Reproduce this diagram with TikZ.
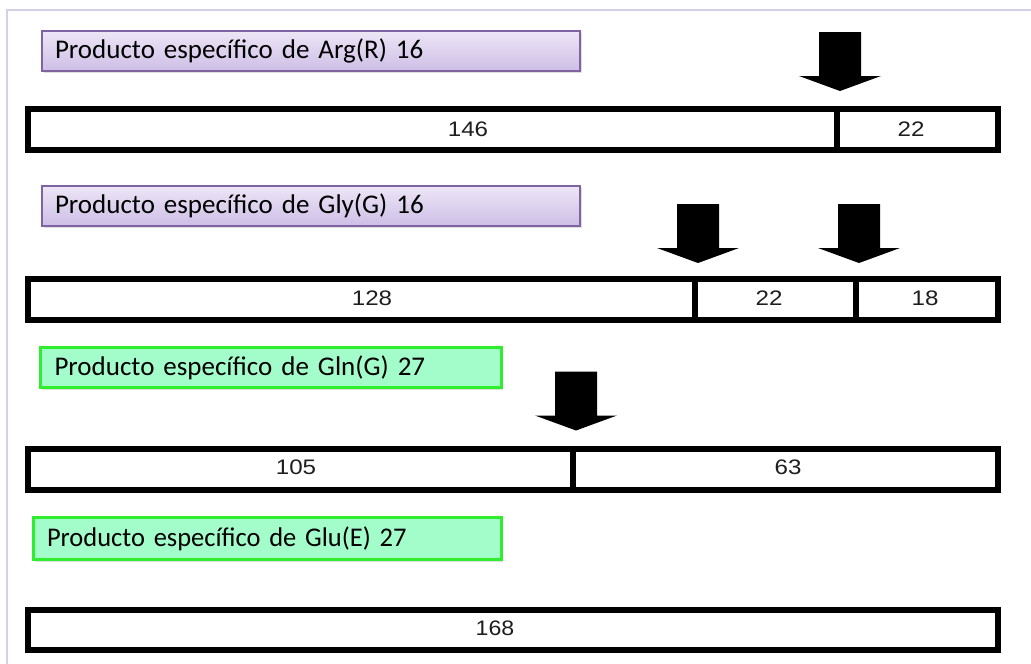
\documentclass[tikz,border=0pt]{standalone}
\usepackage{fontspec}
\usepackage{graphicx}
\setmainfont{Carlito}
\newfontfamily\numfont{Liberation Sans}
\usetikzlibrary{shadows}
\definecolor{framec}{HTML}{D6CFE6}
\definecolor{purpb}{HTML}{8064A2}
\definecolor{purpt}{HTML}{EDE6F6}
\definecolor{purpbot}{HTML}{CDBEE6}
\definecolor{greenb}{HTML}{2EEE2E}
\definecolor{greenf}{HTML}{A2FDCB}
\definecolor{numc}{HTML}{1E1E1E}
\tikzset{
  seg/.style={draw=black, line width=6pt, fill=white, inner sep=0pt, minimum height=41pt},
  num/.style={font=\numfont\fontsize{21}{23}\selectfont, text=numc, inner sep=0pt},
  lbl/.style={font=\fontsize{27}{30}\selectfont, align=left, inner ysep=0pt, minimum height=40pt,
    drop shadow={opacity=0.25, shadow xshift=1.5pt, shadow yshift=-2pt}},
  purplebox/.style={lbl, draw=purpb, line width=2.5pt, top color=purpt, bottom color=purpbot},
  greenbox/.style={lbl, draw=greenb, line width=3pt, fill=greenf},
  darrow/.pic={\fill[black] (-21,-59) -- (21,-59) -- (21,-15) -- (41,-15) -- (0,0) -- (-41,-15) -- (-21,-15) -- cycle;}
}
\begin{document}
\begin{tikzpicture}[x=1pt,y=-1pt]
\useasboundingbox (0,0) rectangle (1031,664);
\fill[white] (0,0) rectangle (1031,664);
\draw[framec, line width=1.5pt] (1031,10) -- (7,10) -- (7,664);

% Row 1
\node[purplebox, text width=512pt, inner xsep=13pt] (l1) at (311,51) {Producto específico de Arg(R) 16};
\node[seg, minimum width=809pt] (a1) at (432.5,129.5) {};
\node[seg, minimum width=161pt] (a2) at (917.5,129.5) {};
\node[num] (t146) at (468,129) {\scalebox{1.15}[1]{146}};
\node[num] (t22a) at (911,129) {\scalebox{1.15}[1]{22}};
\coordinate (c1) at (a1.north east);
\pic at ([yshift=15pt]c1) {darrow};

% Row 2
\node[purplebox, text width=512pt, inner xsep=13pt] (l2) at (311,206) {Producto específico de Gly(G) 16};
\node[seg, minimum width=667pt] (b1) at (361.5,299.5) {};
\node[seg, minimum width=161pt] (b2) at (775.5,299.5) {};
\node[seg, minimum width=142pt] (b3) at (927,299.5) {};
\node[num] (t128) at (372,298) {\scalebox{1.15}[1]{128}};
\node[num] (t22b) at (769,298) {\scalebox{1.15}[1]{22}};
\node[num] (t18) at (925,298) {\scalebox{1.15}[1]{18}};
\coordinate (c2) at (b1.north east);
\coordinate (c3) at (b2.north east);
\pic at ([yshift=13pt]c2) {darrow};
\pic at ([yshift=13pt]c3) {darrow};

% Row 3
\node[greenbox, text width=433pt, inner xsep=14pt] (l3) at (271,367.5) {Producto específico de Gln(G) 27};
\node[seg, minimum width=545pt] (g1) at (300.5,469) {};
\node[seg, minimum width=425pt] (g2) at (785.5,469) {};
\node[num] (t105) at (296,467) {\scalebox{1.15}[1]{105}};
\node[num] (t63) at (788,467) {\scalebox{1.15}[1]{63}};
\coordinate (c4) at (g1.north east);
\pic at ([yshift=15pt]c4) {darrow};

% Row 4
\node[greenbox, text width=441pt, inner xsep=13.5pt, minimum height=42pt] (l4) at (267.5,538.5) {\scalebox{0.98}[1]{Producto específico de Glu(E) 27}};
\node[seg, minimum width=970pt, minimum height=40pt] (e1) at (513,630) {};
\node[num] (t168) at (495,628) {\scalebox{1.1}[1]{168}};
\end{tikzpicture}
\end{document}
